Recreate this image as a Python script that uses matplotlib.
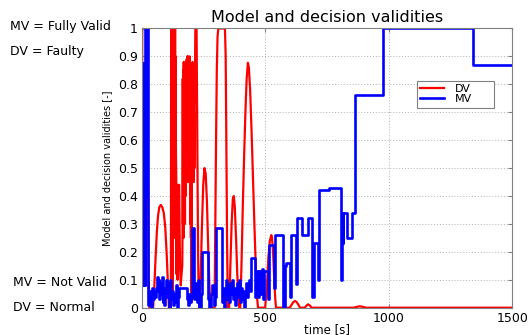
import numpy as np
import matplotlib
matplotlib.use("Agg")
import matplotlib.pyplot as plt

# decision validity (DV) as (time, value)
dv_t = [0, 1, 20, 24, 27, 30,
        45, 50, 55, 60, 65, 70, 76, 82, 88, 94, 100, 105, 109,
        117, 118, 119, 120, 121, 122, 123, 124, 125, 126, 127, 128, 129, 130, 131, 132, 133, 134, 135, 136, 137,
        139, 140, 141, 142, 143, 144, 146, 148, 150, 152, 154, 157, 160, 163,
        164, 165, 166, 167, 168, 169, 170, 171, 172, 173, 174,
        175, 176, 177, 178, 179, 180, 181, 182, 183, 184, 185, 186, 187, 188, 189, 190, 191, 192, 193, 194, 195, 196, 197, 198, 199, 200,
        202, 203, 204, 205, 206, 207, 208, 209, 210, 211, 212, 214, 216, 221, 224, 227, 230, 233,
        238, 243, 248, 253, 258, 263, 268, 273, 278,
        294, 297, 300, 303, 306, 309, 336, 339, 342, 345, 348,
        353, 358, 363, 368, 372, 376, 381, 386, 391, 394,
        398, 403, 408, 414, 419, 424, 429, 433, 438, 444, 450, 456, 462, 467, 470,
        499, 506, 512, 518, 524, 527, 531, 536, 540, 543,
        599, 606, 613, 620, 627, 634, 640, 660, 667, 673, 680, 687, 858, 870, 882, 895, 907, 1500]
dv_v = [0.08, 1.0, 1.0, 0.49, 0.1, 0.0,
        0.0, 0.08, 0.18, 0.27, 0.33, 0.36, 0.368, 0.36, 0.34, 0.29, 0.19, 0.08, 0.0,
        0.0, 1.0, 0.1, 1.0, 0.3, 1.0, 0.05, 0.95, 0.4, 1.0, 0.3, 1.0, 0.5, 1.0, 0.25, 0.98, 0.6, 1.0, 0.3, 0.9, 0.6,
        0.44, 0.12, 0.44, 0.15, 0.4, 0.1, 0.44, 0.2, 0.44, 0.3, 0.15, 0.08, 0.12, 0.15,
        0.25, 0.82, 0.3, 0.85, 0.25, 0.88, 0.3, 0.82, 0.4, 0.86, 0.3,
        0.85, 0.4, 0.88, 0.5, 0.87, 0.6, 0.89, 0.5, 0.9, 0.7, 0.88, 0.45, 0.9, 0.6, 0.89, 0.5, 0.87, 0.55, 0.9, 0.6, 0.85, 0.3, 0.7, 0.25, 0.6, 0.02,
        0.5, 0.85, 0.5, 0.88, 0.55, 0.8, 0.5, 0.85, 0.45, 0.7, 0.5, 0.75, 1.0, 1.0, 0.6, 0.2, 0.02, 0.0,
        0.12, 0.3, 0.44, 0.5, 0.48, 0.38, 0.22, 0.08, 0.0,
        0.0, 0.3, 0.6, 0.85, 0.97, 1.0, 1.0, 0.9, 0.55, 0.2, 0.0,
        0.0, 0.15, 0.3, 0.39, 0.4, 0.36, 0.25, 0.12, 0.03, 0.0,
        0.0, 0.15, 0.35, 0.55, 0.7, 0.82, 0.877, 0.86, 0.78, 0.63, 0.45, 0.28, 0.12, 0.03, 0.0,
        0.0, 0.08, 0.18, 0.24, 0.26, 0.25, 0.2, 0.1, 0.03, 0.0,
        0.0, 0.01, 0.02, 0.024, 0.02, 0.01, 0.0, 0.0, 0.008, 0.012, 0.008, 0.0, 0.0, 0.003, 0.005, 0.003, 0.0, 0.0]

# model validity (MV), piecewise constant: value holds from each time to the next
mv_t = [0, 0.5, 1, 1.5, 2, 2.5, 3, 3.5, 4, 4.5, 5, 5.5, 6, 6.5, 7, 7.5, 8, 8.5, 9, 9.5, 10, 10.5,
        11, 13, 14, 19, 20, 23, 26, 28, 31, 34, 37,
        40, 44, 48, 52, 56, 60, 64, 67, 70, 73, 76, 79, 83, 86, 90, 94, 98, 102, 106,
        110, 114, 118, 122, 126, 130, 134, 138, 142, 146, 150, 182, 186, 190, 194, 198,
        203, 212, 216, 220, 224, 228, 232, 238, 243, 268, 272, 278, 284, 290, 296, 300,
        323, 327, 331, 335, 339, 344, 349, 353, 357, 361, 365, 369, 373, 377, 381, 385,
        389, 393, 397, 401, 405, 409, 413, 417, 421, 425, 429, 433, 437, 441, 458, 462,
        466, 471, 474, 482, 485, 492, 495, 511, 514, 533, 538, 572, 578, 584, 600, 605,
        626, 630, 647, 673, 688, 695, 712, 717, 757, 806, 811, 813, 816, 829, 851, 862,
        977, 1342, 1500]
mv_v = [0.877, 0.08, 0.877, 0.08, 0.877, 0.08, 0.877, 0.08, 0.877, 0.08, 0.877, 0.08,
        0.877, 0.08, 0.877, 0.08, 0.877, 0.08, 0.877, 0.08, 0.877, 0.08,
        1.0, 0.1, 1.0, 0.4, 1.0, 0.05, 0.01, 0.06, 0.02, 0.05, 0.0,
        0.07, 0.03, 0.06, 0.04, 0.07, 0.11, 0.06, 0.1, 0.03, 0.09, 0.05, 0.11, 0.02, 0.07, 0.01, 0.06, 0.1, 0.04, 0.09,
        0.0, 0.1, 0.03, 0.06, 0.01, 0.05, 0.02, 0.08, 0.0, 0.04, 0.07, 0.03, 0.01, 0.05, 0.02, 0.04,
        0.285, 0.03, 0.06, 0.09, 0.02, 0.1, 0.0, 0.05, 0.2, 0.03, 0.0, 0.05, 0.08, 0.01, 0.04, 0.285,
        0.02, 0.07, 0.0, 0.06, 0.1, 0.03, 0.08, 0.02, 0.09, 0.05, 0.1, 0.03, 0.07, 0.01, 0.06, 0.09,
        0.04, 0.1, 0.02, 0.07, 0.03, 0.06, 0.0, 0.05, 0.09, 0.04, 0.07, 0.1, 0.06, 0.178, 0.04, 0.13,
        0.13, 0.04, 0.13, 0.05, 0.14, 0.03, 0.13, 0.03, 0.225, 0.07, 0.26, 0.0, 0.15, 0.16, 0.04, 0.26,
        0.085, 0.32, 0.26, 0.32, 0.04, 0.23, 0.1, 0.42, 0.43, 0.1, 0.34, 0.23, 0.34, 0.25, 0.34, 0.76,
        1.0, 0.87, 0.87]

xticks = [0, 500, 1000, 1500]
yticks = [0, 0.1, 0.2, 0.3, 0.4, 0.5, 0.6, 0.7, 0.8, 0.9, 1]
ytick_labels = ["0", "0.1", "0.2", "0.3", "0.4", "0.5", "0.6", "0.7", "0.8", "0.9", "1"]

fig = plt.figure(figsize=(5.28, 3.35), dpi=100)
ax = fig.add_axes([0.269, 0.0815, 0.701, 0.8335])

ax.plot(dv_t, dv_v, color="#ff0000", lw=1.6, label="DV")
ax.plot(mv_t, mv_v, color="#0000ff", lw=1.9, drawstyle="steps-post", label="MV")

ax.set_xlim(0, 1500)
ax.set_ylim(0, 1)
ax.set_xticks(xticks)
ax.set_yticks(yticks)
ax.set_yticklabels(ytick_labels)
ax.tick_params(direction="in", top=True, right=True, labelsize=9, length=3,
               color="#808080", pad=3)
ax.grid(True, linestyle=(0, (1, 2)), color="#b0b0b0", lw=0.7)
for s in ax.spines.values():
    s.set_color("#808080")
    s.set_linewidth(0.8)

ax.set_title("Model and decision validities", fontsize=11.5, pad=5)
ax.set_xlabel("time [s]", fontsize=8.5)
ax.xaxis.label.set_va("center")
ax.xaxis.set_label_coords(0.5, -0.0765)
ax.set_ylabel("Model and decision validities [-]", fontsize=7)
ax.yaxis.set_label_coords(-0.081, 0.5)

leg = ax.legend(loc="upper left", bbox_to_anchor=(0.742, 0.709, 0.208, 0.103),
                mode="expand", fontsize=8, fancybox=False, edgecolor="#808080",
                framealpha=1, handlelength=2.2, handletextpad=0.9,
                labelspacing=0.0, borderpad=0.3, borderaxespad=0)
leg.get_frame().set_linewidth(0.8)

fig.text(0.019, 0.920, "MV = Fully Valid", fontsize=9, va="center")
fig.text(0.019, 0.846, "DV = Faulty", fontsize=9, va="center")
fig.text(0.024, 0.157, "MV = Not Valid", fontsize=9, va="center")
fig.text(0.025, 0.0815, "DV = Normal", fontsize=9, va="center")

fig.savefig("out.png", dpi=100)
